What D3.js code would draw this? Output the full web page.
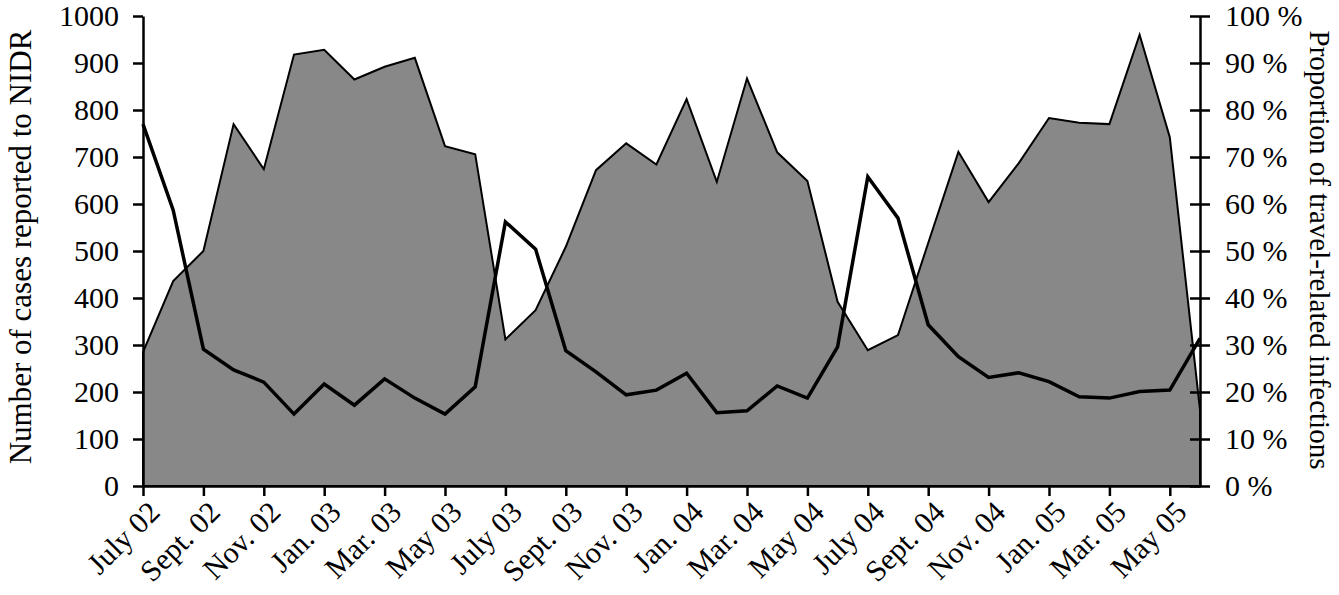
<!DOCTYPE html>
<html>
<head>
<meta charset="utf-8">
<script src="https://cdn.jsdelivr.net/npm/d3@7"></script>
<style>
  body { margin: 0; background: #fff; }
  svg text { font-family: "Liberation Serif", "Times New Roman", serif; fill: #000; }
</style>
</head>
<body>
<script>
// monthly data, July 02 .. June 05
var months = ["July 02","Aug. 02","Sept. 02","Oct. 02","Nov. 02","Dec. 02",
  "Jan. 03","Feb. 03","Mar. 03","Apr. 03","May 03","June 03",
  "July 03","Aug. 03","Sept. 03","Oct. 03","Nov. 03","Dec. 03",
  "Jan. 04","Feb. 04","Mar. 04","Apr. 04","May 04","June 04",
  "July 04","Aug. 04","Sept. 04","Oct. 04","Nov. 04","Dec. 04",
  "Jan. 05","Feb. 05","Mar. 05","Apr. 05","May 05","June 05"];

// number of cases reported to NIDR
var cases = [285, 436, 500, 770, 674, 918, 928, 865, 892, 911, 723, 706,
  312, 374, 509, 672, 729, 684, 823, 647, 867, 710, 649, 392,
  289, 321, 517, 711, 604, 687, 783, 773, 770, 960, 742, 162];

// proportion of travel-related infections (%)
var travel = [77.0, 58.7, 29.1, 24.7, 22.1, 15.3, 21.7, 17.2, 22.8, 18.7, 15.3, 21.1,
  56.2, 50.4, 28.8, 24.3, 19.4, 20.4, 24.0, 15.6, 16.0, 21.3, 18.7, 29.6,
  65.8, 57.0, 34.3, 27.5, 23.1, 24.1, 22.2, 19.0, 18.7, 20.1, 20.4, 31.4];

var leftTicks = [0,100,200,300,400,500,600,700,800,900,1000];
var rightTicks = [0,10,20,30,40,50,60,70,80,90,100];
var xTickIdx = d3.range(0, 36, 2);

var svg = d3.select("body").append("svg")
  .attr("width", 1339)
  .attr("height", 595);

var x = d3.scaleLinear().domain([0, 35]).range([143, 1200]);
var yL = d3.scaleLinear().domain([0, 1000]).range([486, 16]);
var yR = d3.scaleLinear().domain([0, 100]).range([486, 16]);

// cases area
var area = d3.area()
  .x(function(d, i) { return x(i); })
  .y0(yL(0))
  .y1(function(d) { return yL(d); });
svg.append("path")
  .datum(cases)
  .attr("d", area)
  .attr("fill", "#888888")
  .attr("stroke", "#000")
  .attr("stroke-width", 2)
  .attr("stroke-linejoin", "miter");

// travel line
var line = d3.line()
  .x(function(d, i) { return x(i); })
  .y(function(d) { return yR(d); });
svg.append("path")
  .datum(travel)
  .attr("d", line)
  .attr("fill", "none")
  .attr("stroke", "#000")
  .attr("stroke-width", 3.5)
  .attr("stroke-linejoin", "miter");

// left axis
var gL = svg.append("g")
  .attr("transform", "translate(143,0)")
  .call(d3.axisLeft(yL).tickValues(leftTicks).tickSize(10).tickPadding(14).tickSizeOuter(0)
    .tickFormat(d3.format("d")));

// right axis, ticks cross the line
var gR = svg.append("g")
  .attr("transform", "translate(1200,0)")
  .call(d3.axisRight(yR).tickValues(rightTicks).tickSize(10).tickPadding(15).tickSizeOuter(0)
    .tickFormat(function(d) { return d + " %"; }));
gR.selectAll(".tick line").attr("x1", -10).attr("x2", 10);

// bottom axis
var gB = svg.append("g")
  .attr("transform", "translate(0,486)")
  .call(d3.axisBottom(x).tickValues(xTickIdx).tickSize(10).tickSizeOuter(0)
    .tickFormat(function(i) { return months[i]; }));
gB.selectAll(".tick text")
  .attr("y", 0).attr("dy", 0)
  .attr("text-anchor", "end")
  .attr("transform", "translate(18,28) rotate(-45)");

svg.selectAll(".domain, .tick line")
  .attr("stroke", "#000")
  .attr("stroke-width", 2.5);
svg.selectAll(".tick text")
  .style("font-family", "Liberation Serif")
  .style("font-size", "30px")
  .attr("fill", "#000");

// axis titles
svg.append("text")
  .attr("transform", "translate(31,247) rotate(-90)")
  .attr("text-anchor", "middle")
  .style("font-size", "31px")
  .text("Number of cases reported to NIDR");

svg.append("text")
  .attr("transform", "translate(1310,250) rotate(90)")
  .attr("text-anchor", "middle")
  .style("font-size", "29px")
  .text("Proportion of travel-related infections");
</script>
</body>
</html>
